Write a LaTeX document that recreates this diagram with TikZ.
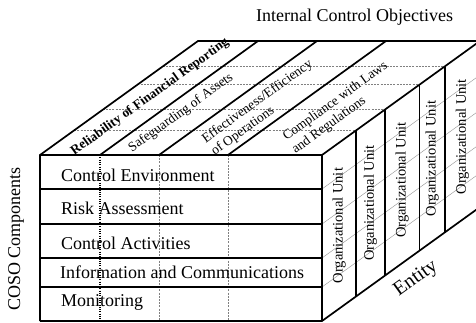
\documentclass[tikz,border=0pt]{standalone}
\usepackage{fontspec}
\setmainfont{Liberation Serif}
\usetikzlibrary{calc}
\begin{document}
\begin{tikzpicture}[x=1pt,y=-1pt,
  edge/.style={line width=1.7pt, line join=miter, line cap=butt},
  guide/.style={gray, line width=0.5pt, dash pattern=on 2pt off 1.2pt},
  faint/.style={gray!80, line width=0.45pt},
  dotline/.style={black, line width=1.1pt, dash pattern=on 1pt off 1.3pt},
  big/.style={font=\fontsize{18}{20}\selectfont, inner sep=0pt},
  obj/.style={font=\fontsize{13.5}{15.5}\selectfont, inner sep=0pt, rotate=35.81, align=left},
  unit/.style={font=\fontsize{14.5}{16}\selectfont, inner sep=0pt, rotate=90},
  comp/.style={font=\fontsize{18}{20}\selectfont, inner sep=0pt, anchor=base west}
]
\useasboundingbox (0,0) rectangle (476,322);

% depth vector of the cube and front face corners
\coordinate (D) at (158,-114);
\coordinate (FTL) at (40,155);
\coordinate (FTR) at (322,155);
\coordinate (FBL) at (40,321);
\coordinate (FBR) at (322,321);
\coordinate (BTL) at ($(FTL)+(D)$);
\coordinate (BTR) at ($(FTR)+(D)$);
\coordinate (BBR) at ($(FBR)+(D)$);

% ---- thin guide lines -------------------------------------------------
% organizational unit boundaries across the top face
\foreach \f in {0.217,0.397,0.617,0.777}{
  \draw[guide] ($(FTL)+\f*(D)$) -- ($(FTR)+\f*(D)$);
}
% component rows carried across the right face
\foreach \y in {189,224,258,287}{
  \draw[faint] (322,\y) -- ($(322,\y)+(D)$);
}
% objective columns carried down the front face
\draw[dotline] (100,155) -- (100,321);
\draw[guide] (159,155) -- (159,321);
\draw[guide] (228,155) -- (228,321);

% ---- texts ------------------------------------------------------------
\node[big] (title) at (354.5,17) {Internal Control Objectives};
\node[big, rotate=90] (coso) at (16,239) {COSO Components};
\node[font=\fontsize{20}{22}\selectfont, inner sep=0pt, rotate=35.81] (entity) at (416,279) {Entity};

\node[comp] (c1) at (61,181) {Control Environment};
\node[comp] (c2) at (61,214) {Risk Assessment};
\node[comp] (c3) at (61,249) {Control Activities};
\node[comp] (c4) at (60,278) {Information and Communications};
\node[comp] (c5) at (61,306) {Monitoring};

\node[obj, font=\fontsize{13.3}{15}\selectfont\bfseries] (o1) at (150,97) {Reliability of Financial Reporting};
\node[obj] (o2) at (181,113) {Safeguarding of Assets};
\node[obj] (o3) at (262,108) {Effectiveness/Efficiency\\of Operations};
\node[obj] (o4) at (340,108) {Compliance with Laws\\and Regulations};

\node[unit] (u1) at (339.1,225.6) {Organizational Unit};
\node[unit] (u2) at (370.5,203) {Organizational Unit};
\node[unit] (u3) at (402.1,180.2) {Organizational Unit};
\node[unit] (u4) at (432.1,158.5) {Organizational Unit};
\node[unit] (u5) at (462.4,136.7) {Organizational Unit};

% ---- cube outline -----------------------------------------------------
\draw[edge] (FBL) -- (FTL) -- (BTL) -- (BTR) -- (BBR) -- (FBR) -- (FBL);
\draw[edge] (FTL) -- (FTR) -- (FBR);
\draw[edge] (FTR) -- (BTR);
% objective columns on the top face
\foreach \x in {100,159,228}{
  \draw[edge] (\x,155) -- ($(\x,155)+(D)$);
}
% component rows on the front face
\foreach \y in {189,224,258,287}{
  \draw[edge] (40,\y) -- (322,\y);
}
% organizational units on the right face
\foreach \f in {0.217,0.397,0.617,0.777}{
  \draw[edge] ($(FTR)+\f*(D)$) -- ($(FBR)+\f*(D)$);
}
\end{tikzpicture}
\end{document}
